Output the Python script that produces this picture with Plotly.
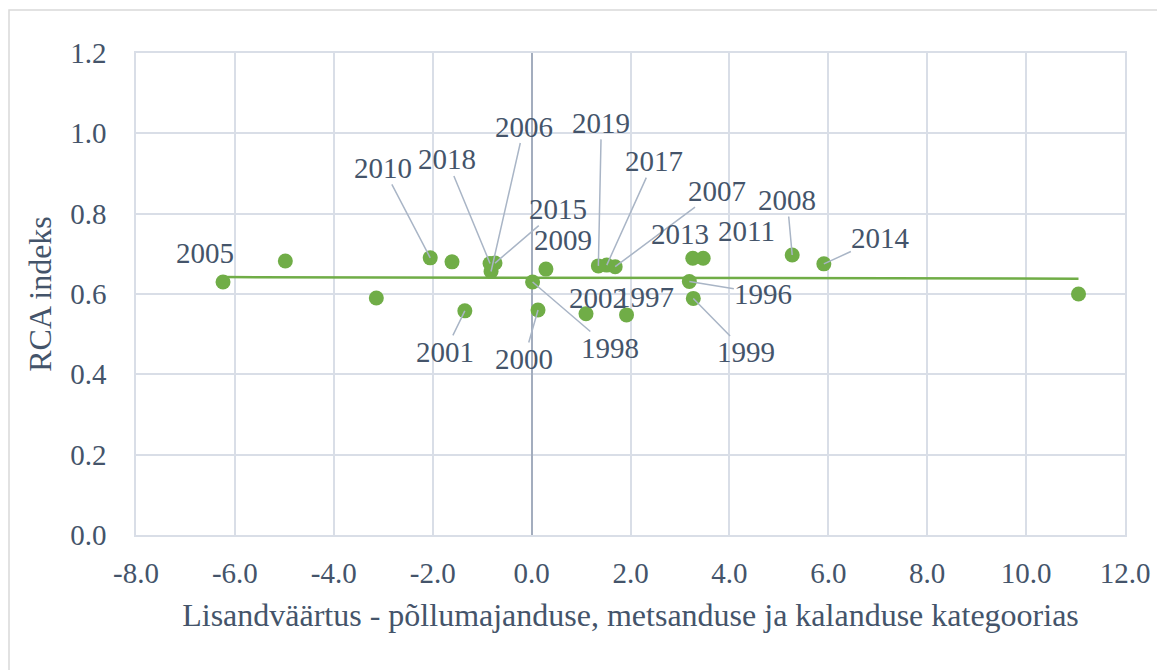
import numpy as np
import plotly.graph_objects as go

# ---- data ----
years = [1996, 1997, 1998, 1999, 2000, 2001, 2002, 2003, 2004, 2005, 2006, 2007,
         2008, 2009, 2010, 2011, 2012, 2013, 2014, 2015, 2016, 2017, 2018, 2019]
value_added = [3.19, 1.92, 0.02, 3.27, 0.13, -1.35, 1.10, -3.14, -4.98, -6.24, -0.82, 1.69,
               5.27, 0.29, -2.05, 3.47, -1.61, 3.26, 5.91, -0.74, 11.06, 1.52, -0.84, 1.35]
rca_index = [0.631, 0.548, 0.630, 0.589, 0.560, 0.558, 0.551, 0.590, 0.682, 0.630, 0.656, 0.668,
             0.697, 0.662, 0.690, 0.689, 0.680, 0.689, 0.675, 0.677, 0.600, 0.672, 0.676, 0.670]
# which points carry a data label
shown_labels = [1996, 1997, 1998, 1999, 2000, 2001, 2002, 2005, 2006, 2007, 2008, 2009,
                2010, 2011, 2013, 2014, 2015, 2017, 2018, 2019]

x_ticks = [-8, -6, -4, -2, 0, 2, 4, 6, 8, 10, 12]
x_tick_text = [f"{v:.1f}" for v in x_ticks]
y_ticks = [0.0, 0.2, 0.4, 0.6, 0.8, 1.0, 1.2]
y_tick_text = [f"{v:.1f}" for v in y_ticks]

x_title = "Lisandväärtus - põllumajanduse, metsanduse ja kalanduse kategoorias"
y_title = "RCA indeks"

# ---- label placement (pixel offsets of the label from its point, leader line yes/no) ----
label_layout = {
    1996: (74, 12, True), 1997: (18, -18, False), 1998: (77, 66, True),
    1999: (53, 54, True), 2000: (-14, 49, True), 2001: (-20, 41, True),
    2002: (12, -16, False), 2005: (-18, -29, False), 2006: (33, -145, True),
    2007: (102, -76, True), 2008: (-5, -55, True), 2009: (17, -29, False),
    2010: (-47, -90, True), 2011: (43, -27, False), 2013: (-13, -24, False),
    2014: (57, -26, True), 2015: (63, -54, True), 2017: (47, -104, True),
    2018: (-43, -104, True), 2019: (3, -143, True),
}

GREEN = "#70AD47"
TEXT = "#44546A"
GRID = "#D9DEE7"
LEADER = "#A9B5C6"
FONT = "Liberation Serif, Times New Roman, serif"
FS = 29      # tick and data labels
FS_T = 32    # axis titles

# page body has an 8px margin; the figure is sized/offset to compensate
W, H = 1157, 662
ML, MR, MT, MB = 128, 40, 45, 135
PW, PH = W - ML - MR, H - MT - MB

fig = go.Figure()

# linear trend line over the data range
xa = np.array(value_added)
ya = np.array(rca_index)
slope, intercept = np.polyfit(xa, ya, 1)
tx = np.array([xa.min(), xa.max()])
fig.add_trace(go.Scatter(x=tx, y=slope * tx + intercept, mode="lines",
                         line=dict(color=GREEN, width=2.5), hoverinfo="skip",
                         showlegend=False))

fig.add_trace(go.Scatter(x=value_added, y=rca_index, mode="markers",
                         marker=dict(color=GREEN, size=15),
                         text=[str(y) for y in years], showlegend=False))

annotations = []
for yr, xv, yv in zip(years, value_added, rca_index):
    if yr not in shown_labels:
        continue
    dx, dy, leader = label_layout[yr]
    annotations.append(dict(
        x=xv, y=yv, xref="x", yref="y", text=str(yr),
        showarrow=True, ax=dx, ay=dy, axref="pixel", ayref="pixel",
        arrowhead=0, arrowwidth=1.5, standoff=0,
        arrowcolor=LEADER if leader else "rgba(0,0,0,0)",
        font=dict(family=FONT, size=FS, color=TEXT),
        borderpad=0,
    ))

fig.update_layout(
    width=W, height=H,
    margin=dict(l=ML, r=MR, t=MT, b=MB),
    paper_bgcolor="white", plot_bgcolor="white",
    font=dict(family=FONT, size=FS, color=TEXT),
    annotations=annotations,
    shapes=[dict(type="rect", xref="paper", yref="paper",
                 x0=(1 - ML) / PW, x1=(W + 20 - ML) / PW,
                 y0=(MT + PH - (H + 20)) / PH, y1=(MT + PH - 2) / PH,
                 line=dict(color="#D9D9D9", width=1.5), layer="below")],
    xaxis=dict(range=[-8, 12], tickvals=x_ticks, ticktext=x_tick_text,
               showgrid=True, gridcolor=GRID, gridwidth=1.5,
               zeroline=True, zerolinecolor="#A3ADBE", zerolinewidth=1.5,
               showline=True, linecolor=GRID, linewidth=1.5, mirror=True,
               ticks="", ticklabelstandoff=11,
               tickfont=dict(family=FONT, size=FS, color=TEXT),
               title=dict(text=x_title, standoff=16,
                          font=dict(family=FONT, size=FS_T, color=TEXT))),
    yaxis=dict(range=[0, 1.2], tickvals=y_ticks, ticktext=y_tick_text,
               showgrid=True, gridcolor=GRID, gridwidth=1.5,
               zeroline=False,
               showline=True, linecolor=GRID, linewidth=1.5, mirror=True,
               ticks="", ticklabelstandoff=22,
               tickfont=dict(family=FONT, size=FS, color=TEXT),
               title=dict(text=y_title, standoff=9,
                          font=dict(family=FONT, size=FS_T, color=TEXT))),
)

fig.write_html("out.html")
